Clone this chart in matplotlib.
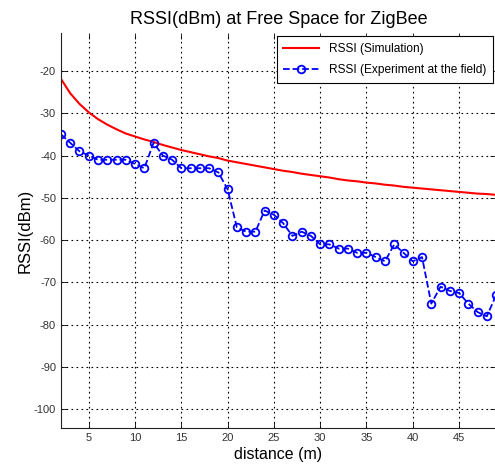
import matplotlib
matplotlib.use("Agg")
from matplotlib import pyplot as plt

plt.rcParams['font.family'] = ['Liberation Sans', 'DejaVu Sans']
plt.rcParams['axes.unicode_minus'] = False

# distance (m) for both series
distance = list(range(2, 50))

# simulated free-space RSSI (dBm)
rssi_sim = [-21.9, -25.3, -27.8, -29.8, -31.4, -32.7, -33.8, -34.8, -35.5, -36.2,
            -36.8, -37.5, -38.1, -38.7, -39.2, -39.7, -40.2, -40.6, -41.2, -41.6,
            -42.0, -42.4, -42.8, -43.2, -43.6, -43.9, -44.3, -44.6, -44.9, -45.2,
            -45.6, -45.9, -46.1, -46.4, -46.6, -46.9, -47.1, -47.4, -47.6, -47.8,
            -48.0, -48.2, -48.4, -48.6, -48.8, -49.0, -49.1, -49.3]

rssi_exp = [-35, -37, -39, -40, -41, -41, -41, -41, -42, -43,
            -37, -40, -41, -43, -43, -43, -43, -44, -48, -57,
            -58, -58, -53, -54, -56, -59, -58, -59, -61, -61,
            -62, -62, -63, -63, -64, -65, -61, -63, -65, -64,
            -75, -71, -72, -72.5, -75, -77, -78, -73]

fig = plt.figure(figsize=(4.95, 4.71), dpi=100)
ax = fig.add_axes([0.1232, 0.0913, 0.879, 0.839])

ax.plot(distance, rssi_sim, color='red', linewidth=1.5, label='RSSI (Simulation)')
ax.plot(distance, rssi_exp, color='blue', linewidth=1.3, linestyle='--',
        marker='o', markersize=5.5, markerfacecolor='none', markeredgewidth=1.3,
        label='RSSI (Experiment at the field)')

ax.set_xlim(2, 49)
ax.set_ylim(-104.4, -11)
ax.set_xticks(range(5, 50, 5))
ax.set_yticks(range(-100, -19, 10))
ax.tick_params(direction='in', top=True, right=True, labelsize=8,
               labelcolor='#333333', length=4, width=0.6)
ax.grid(True, color='black', linestyle=(0, (1.5, 3)), linewidth=0.8)
ax.spines['top'].set_visible(False)
for s in ('left', 'bottom'):
    ax.spines[s].set_color('#222222')

ax.set_title('RSSI(dBm) at Free Space for ZigBee', fontsize=13, pad=6)
ax.set_xlabel('distance (m)', fontsize=11.5, labelpad=3)
ax.set_ylabel('RSSI(dBm)', fontsize=12, labelpad=1)

leg = ax.legend(loc='upper right', fontsize=8.6, fancybox=False, framealpha=1,
                edgecolor='black', borderaxespad=0.3, handlelength=3.0,
                labelspacing=0.75, borderpad=0.55)
leg.get_frame().set_linewidth(0.8)

fig.savefig('out.png', dpi=100)
